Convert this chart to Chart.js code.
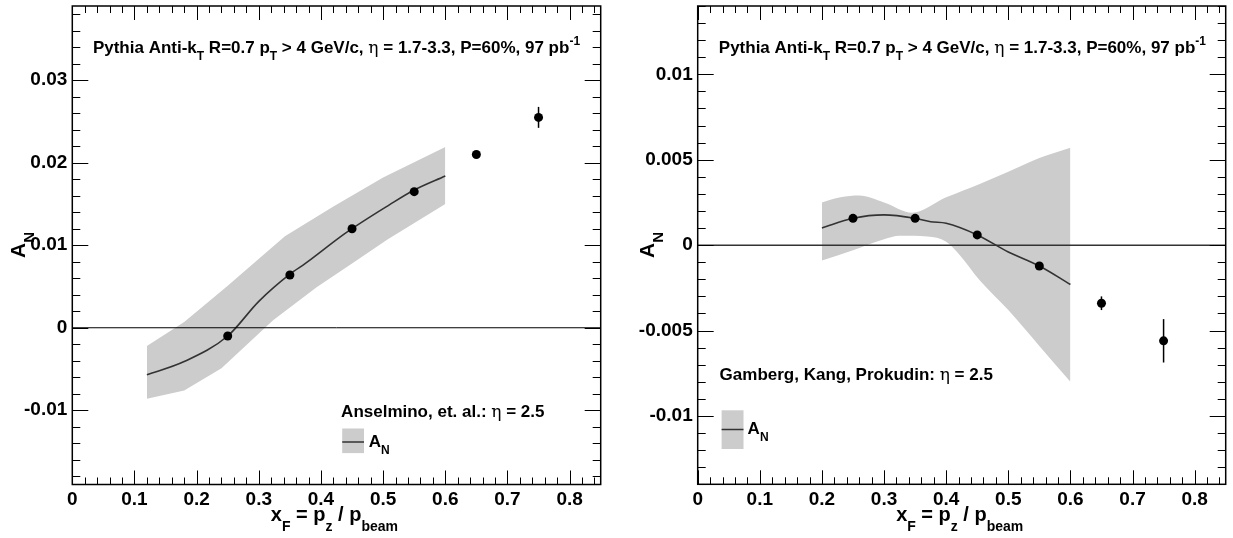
<!DOCTYPE html>
<html><head><meta charset="utf-8">
<script src="https://cdn.jsdelivr.net/npm/chart.js@4.4.1/dist/chart.umd.min.js"></script>
<style>
html,body{margin:0;padding:0;background:#fff;width:1233px;height:538px;overflow:hidden}
#c1{position:absolute;left:0;top:0}
#c2{position:absolute;left:616px;top:0}
</style></head><body>
<canvas id="c1" width="616" height="538"></canvas>
<canvas id="c2" width="617" height="538"></canvas>
<script>
// ---------------- data ----------------
const xTickValues = [0, 0.1, 0.2, 0.3, 0.4, 0.5, 0.6, 0.7, 0.8];
const xTickLabels = ['0', '0.1', '0.2', '0.3', '0.4', '0.5', '0.6', '0.7', '0.8'];
const leftYTickValues = [-0.01, 0, 0.01, 0.02, 0.03];
const leftYTickLabels = ['-0.01', '0', '0.01', '0.02', '0.03'];
const rightYTickValues = [-0.01, -0.005, 0, 0.005, 0.01];
const rightYTickLabels = ['-0.01', '-0.005', '0', '0.005', '0.01'];

// pseudo-data points (same x and errors in both panels)
const pointX = [0.25, 0.35, 0.45, 0.55, 0.65, 0.75];
const pointErr = [0.0001, 0.0001, 0.0001, 0.0001, 0.0004, 0.00127];
const leftPointY = [-0.0010, 0.0064, 0.0120, 0.0165, 0.0210, 0.0255];
const rightPointY = [0.00157, 0.00157, 0.0006, -0.00122, -0.0034, -0.0056];

// Anselmino et al. band and central curve
const leftBandUpX = [0.12, 0.18, 0.25, 0.342, 0.42, 0.50, 0.60];
const leftBandUpY = [-0.0022, 0.0007, 0.0051, 0.0111, 0.0147, 0.0182, 0.0219];
const leftBandLoX = [0.12, 0.18, 0.24, 0.323, 0.393, 0.45, 0.507, 0.60];
const leftBandLoY = [-0.0086, -0.0076, -0.0049, 0.0009, 0.0049, 0.0078, 0.0107, 0.0150];
const leftCurveX = [0.12, 0.18, 0.25, 0.30, 0.35, 0.375, 0.44, 0.51, 0.55, 0.60];
const leftCurveY = [-0.0057, -0.0041, -0.0010, 0.0032, 0.0065, 0.0078, 0.0115, 0.0149, 0.0167, 0.0184];

// Gamberg, Kang, Prokudin band and central curve
const rightBandUpX = [0.20, 0.23, 0.26, 0.30, 0.345, 0.40, 0.455, 0.50, 0.55, 0.60];
const rightBandUpY = [0.0025, 0.0028, 0.0029, 0.0025, 0.0019, 0.0028, 0.0036, 0.0043, 0.0051, 0.0057];
const rightBandLoX = [0.20, 0.25, 0.30, 0.325, 0.37, 0.40, 0.42, 0.455, 0.50, 0.55, 0.60];
const rightBandLoY = [-0.0009, -0.0003, 0.00035, 0.00055, 0.0005, 0.0002, -0.0005, -0.0021, -0.0038, -0.0059, -0.0080];
const rightCurveX = [0.20, 0.25, 0.30, 0.35, 0.375, 0.40, 0.45, 0.50, 0.55, 0.60];
const rightCurveY = [0.0010, 0.00157, 0.00177, 0.00157, 0.00137, 0.00128, 0.0006, -0.0004, -0.00122, -0.0023];

// ---------------- helpers ----------------
const xy = (xs, ys) => xs.map((x, i) => ({x, y: ys[i]}));
const FONT = '"Liberation Sans", Arial, sans-serif';
const GREEK = '"DejaVu Serif", "Liberation Serif", serif';

function partFont(mode, size) {
  if (mode === 'g') return `normal ${size}px ${GREEK}`;
  if (mode === 'sub' || mode === 'sup') return `bold ${Math.round(size * 0.7)}px ${FONT}`;
  return `bold ${size}px ${FONT}`;
}
function richWidth(ctx, parts, size) {
  let w = 0;
  for (const [t, m] of parts) { ctx.font = partFont(m, size); w += ctx.measureText(t).width; }
  return w;
}
function drawRich(ctx, parts, x, y, size, align, subOff) {
  const w = richWidth(ctx, parts, size);
  let cx = align === 'center' ? x - w / 2 : x;
  ctx.textBaseline = 'middle';
  ctx.textAlign = 'left';
  ctx.fillStyle = '#000';
  for (const [t, m] of parts) {
    ctx.font = partFont(m, size);
    let dy = 0;
    if (m === 'sub') dy = size * (subOff || 0.5);
    if (m === 'sup') dy = -size * 0.4;
    ctx.fillText(t, cx, y + dy);
    cx += ctx.measureText(t).width;
  }
}

const titleParts = [['Pythia Anti-k', 'n'], ['T', 'sub'], [' R=0.7 p', 'n'], ['T', 'sub'],
  [' > 4 GeV/c, ', 'n'], ['\u03B7', 'g'], [' = 1.7-3.3, P=60%, 97 pb', 'n'], ['-1', 'sup']];
const xTitleParts = [['x', 'n'], ['F', 'sub'], [' = p', 'n'], ['z', 'sub'], [' / p', 'n'], ['beam', 'sub']];
const yTitleParts = [['A', 'n'], ['N', 'sub']];

const rootPlugin = {
  id: 'rootDeco',
  afterDatasetsDraw(chart, args, o) {
    const {ctx, chartArea: a, scales: {x, y}} = chart;
    ctx.save();
    ctx.strokeStyle = o.zeroColor;
    ctx.lineWidth = o.zeroWidth;
    const y0 = y.getPixelForValue(0);
    ctx.beginPath(); ctx.moveTo(a.left, y0); ctx.lineTo(a.right, y0); ctx.stroke();
    ctx.strokeStyle = '#000';
    ctx.lineWidth = 1.5;
    pointX.forEach((px, i) => {
      const vy = o.pointsY[i], e = pointErr[i];
      const X = x.getPixelForValue(px);
      ctx.beginPath();
      ctx.moveTo(X, y.getPixelForValue(vy - e));
      ctx.lineTo(X, y.getPixelForValue(vy + e));
      ctx.stroke();
    });
    ctx.lineWidth = 1;
    const xStep = 0.02;
    for (let i = Math.ceil(x.min / xStep - 1e-9); i * xStep <= x.max + 1e-9; i++) {
      const X = Math.round(x.getPixelForValue(i * xStep)) + 0.5;
      const len = (i % 5 === 0) ? 14 : 7;
      ctx.beginPath();
      ctx.moveTo(X, a.bottom); ctx.lineTo(X, a.bottom - len);
      ctx.moveTo(X, a.top); ctx.lineTo(X, a.top + len);
      ctx.stroke();
    }
    const yStep = o.yMinorStep;
    for (let i = Math.ceil(y.min / yStep - 1e-9); i * yStep <= y.max + 1e-9; i++) {
      const Y = Math.round(y.getPixelForValue(i * yStep)) + 0.5;
      const len = (i % 5 === 0) ? 16 : 8;
      ctx.beginPath();
      ctx.moveTo(a.left, Y); ctx.lineTo(a.left + len, Y);
      ctx.moveTo(a.right, Y); ctx.lineTo(a.right - len, Y);
      ctx.stroke();
    }
    ctx.lineWidth = 1.5;
    ctx.strokeRect(a.left, a.top, a.right - a.left, a.bottom - a.top);
    ctx.restore();
  },
  afterDraw(chart, args, o) {
    const ctx = chart.ctx;
    ctx.save();
    drawRich(ctx, titleParts, o.titleX, o.titleY, 17, 'left');
    drawRich(ctx, o.legendParts, o.legendX, o.legendY, 17, 'left');
    const b = o.box;
    ctx.fillStyle = '#cccccc';
    ctx.fillRect(b[0], b[1], b[2] - b[0], b[3] - b[1]);
    ctx.strokeStyle = '#333';
    ctx.lineWidth = 1.5;
    ctx.beginPath(); ctx.moveTo(b[0], b[4]); ctx.lineTo(b[2], b[4]); ctx.stroke();
    drawRich(ctx, yTitleParts, o.anX, b[4], 17, 'left');
    drawRich(ctx, xTitleParts, o.xTitleX, o.xTitleY, 20, 'center', 0.6);
    ctx.translate(o.yTitleX, o.yTitleY);
    ctx.rotate(-Math.PI / 2);
    drawRich(ctx, yTitleParts, 0, 0, 21, 'center');
    ctx.restore();
  }
};

function zeroPad(s) { s.paddingTop = 0; s.paddingBottom = 0; s.paddingLeft = 0; s.paddingRight = 0; }

function makeChart(id, cfg) {
  return new Chart(document.getElementById(id), {
    type: 'line',
    data: {
      datasets: [
        {data: xy(pointX, cfg.pointsY), showLine: false, pointRadius: 4.5, pointHoverRadius: 4.5,
         pointBackgroundColor: '#000', pointBorderColor: '#000', borderWidth: 0},
        {data: xy(cfg.curveX, cfg.curveY), borderColor: '#333333', borderWidth: 1.6, pointRadius: 0,
         cubicInterpolationMode: 'monotone', fill: false},
        {data: xy(cfg.loX, cfg.loY), borderWidth: 0, borderColor: 'rgba(0,0,0,0)', pointRadius: 0,
         cubicInterpolationMode: cfg.bandSmooth ? 'monotone' : 'default', tension: 0, fill: false},
        {data: xy(cfg.upX, cfg.upY), borderWidth: 0, borderColor: 'rgba(0,0,0,0)', pointRadius: 0,
         cubicInterpolationMode: cfg.bandSmooth ? 'monotone' : 'default', tension: 0,
         fill: '-1', backgroundColor: '#cccccc'}
      ]
    },
    options: {
      responsive: false,
      animation: false,
      events: [],
      layout: {padding: {top: cfg.padTop, right: cfg.padRight, left: 0, bottom: 0}},
      plugins: {legend: {display: false}, tooltip: {enabled: false}, rootDeco: cfg.deco},
      scales: {
        x: {type: 'linear', min: 0, max: 0.85,
          grid: {display: false, drawTicks: false}, border: {display: false},
          afterBuildTicks: s => { s.ticks = xTickValues.map(v => ({value: v})); },
          afterFit: s => { s.height = cfg.xAxisHeight; zeroPad(s); },
          ticks: {padding: 4, maxRotation: 0, autoSkip: false, color: '#000',
            font: {family: FONT, size: 19, weight: 'bold'},
            callback: (v, i) => xTickLabels[i]}},
        y: {type: 'linear', min: cfg.yMin, max: cfg.yMax,
          grid: {display: false, drawTicks: false}, border: {display: false},
          afterBuildTicks: s => { s.ticks = cfg.yTicks.map(v => ({value: v})); },
          afterFit: s => { s.width = cfg.yAxisWidth; zeroPad(s); },
          ticks: {padding: 5, autoSkip: false, color: '#000',
            font: {family: FONT, size: 19, weight: 'bold'},
            callback: (v, i) => cfg.yLabels[i]}}
      }
    },
    plugins: [rootPlugin]
  });
}

makeChart('c1', {
  pointsY: leftPointY, curveX: leftCurveX, curveY: leftCurveY,
  upX: leftBandUpX, upY: leftBandUpY, loX: leftBandLoX, loY: leftBandLoY, bandSmooth: false,
  yMin: -0.019, yMax: 0.039, yTicks: leftYTickValues, yLabels: leftYTickLabels,
  padTop: 6, padRight: 15.3, xAxisHeight: 53.5, yAxisWidth: 72.3,
  deco: {pointsY: leftPointY, yMinorStep: 0.002, zeroColor: '#000', zeroWidth: 1,
    titleX: 92.9, titleY: 48.5,
    legendParts: [['Anselmino, et. al.: ', 'n'], ['\u03B7', 'g'], [' = 2.5', 'n']],
    legendX: 341.1, legendY: 412.3, box: [342.2, 428.5, 364, 453.1, 442], anX: 368.7,
    xTitleX: 334.4, xTitleY: 515.5, yTitleX: 19.7, yTitleY: 245}
});

makeChart('c2', {
  pointsY: rightPointY, curveX: rightCurveX, curveY: rightCurveY,
  upX: rightBandUpX, upY: rightBandUpY, loX: rightBandLoX, loY: rightBandLoY, bandSmooth: true,
  yMin: -0.014, yMax: 0.014, yTicks: rightYTickValues, yLabels: rightYTickLabels,
  padTop: 6, padRight: 7.3, xAxisHeight: 53.7, yAxisWidth: 81.7,
  deco: {pointsY: rightPointY, yMinorStep: 0.001, zeroColor: '#333', zeroWidth: 1.5,
    titleX: 102.8, titleY: 48.5,
    legendParts: [['Gamberg, Kang, Prokudin: ', 'n'], ['\u03B7', 'g'], [' = 2.5', 'n']],
    legendX: 103.6, legendY: 375.3, box: [105.6, 410.3, 127.5, 449, 429.5], anX: 131.6,
    xTitleX: 343.7, xTitleY: 515.5, yTitleX: 32, yTitleY: 245}
});
</script>
</body></html>
